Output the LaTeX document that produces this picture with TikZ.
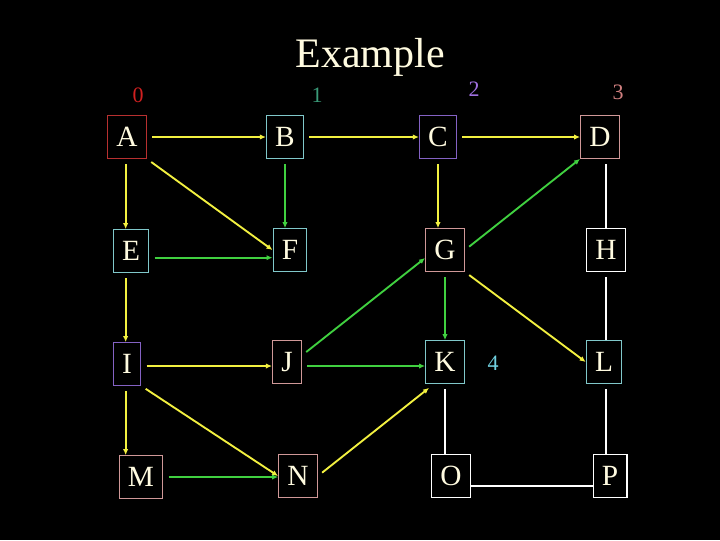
\documentclass[tikz,border=0pt]{standalone}
\usepackage{fontspec}
\setmainfont{Liberation Serif}
\usetikzlibrary{arrows.meta,calc}
\definecolor{ivory}{HTML}{FFFBE0}
\definecolor{boxred}{HTML}{B83030}
\definecolor{boxteal}{HTML}{80C8CA}
\definecolor{boxplum}{HTML}{8462C4}
\definecolor{boxpink}{HTML}{D09898}
\definecolor{edgeyellow}{HTML}{F2F040}
\definecolor{edgegreen}{HTML}{40D040}
\definecolor{lvlred}{HTML}{D02020}
\definecolor{lvlteal}{HTML}{3A9A78}
\definecolor{lvlplum}{HTML}{A070E0}
\definecolor{lvlpink}{HTML}{D08080}
\definecolor{lvlcyan}{HTML}{70D0E0}
\tikzset{
  >={Latex[length=4.5pt,width=4pt]},
  % noder
  vx/.style={rectangle,draw,fill=black,line width=0.8pt,text=ivory,
             inner xsep=6.6pt,inner ysep=0pt,minimum height=32pt,
             font=\fontsize{22}{25}\selectfont},
  vred/.style={vx,draw=boxred},
  vteal/.style={vx,draw=boxteal},
  vplum/.style={vx,draw=boxplum},
  vpink/.style={vx,draw=boxpink},
  vwhite/.style={vx,draw=white},
  lvl/.style={font=\fontsize{16.5}{19}\selectfont,inner sep=0pt},
  % kanter
  ye/.style={->,draw=edgeyellow,line width=1.4pt,shorten <=4pt},
  gre/.style={->,draw=edgegreen,line width=1.4pt,shorten <=4pt},
  wl/.style={draw=white,line width=0.8pt,shorten <=4pt},
}
\begin{document}
\begin{tikzpicture}[x=0.75pt,y=-0.75pt]
\useasboundingbox (0,0) rectangle (720,540);
  \fill[black] (0,0) rectangle (720,540);
  \node[text=ivory,font=\fontsize{31.5}{36}\selectfont] (title) at (370,57) {Example};
  \node[vred]   (A) at (127,137) {A};
  \node[vteal]  (B) at (285,137) {B};
  \node[vplum]  (C) at (438,137) {C};
  \node[vpink]  (D) at (600,137) {D};
  \node[vteal]  (E) at (131,251) {E};
  \node[vteal]  (F) at (290,250) {F};
  \node[vpink]  (G) at (445,250) {G};
  \node[vwhite] (H) at (606,250) {H};
  \node[vplum]  (I) at (127,364) {I};
  \node[vpink]  (J) at (287,362) {J};
  \node[vteal]  (K) at (445,362) {K};
  \node[vteal]  (L) at (604,362) {L};
  \node[vpink]  (M) at (141,477) {M};
  \node[vpink]  (N) at (298,476) {N};
  \node[vwhite] (O) at (451,476) {O};
  \node[vwhite] (P) at (610,476) {P};
  \node[lvl,text=lvlred]  (l0) at (138,95) {0};
  \node[lvl,text=lvlteal] (l1) at (317,95) {1};
  \node[lvl,text=lvlplum] (l2) at (474,89) {2};
  \node[lvl,text=lvlpink] (l3) at (618,92) {3};
  \node[lvl,text=lvlcyan] (l4) at (493,363) {4};
  \draw[ye] (A) -- (B);
  \draw[ye] (B) -- (C);
  \draw[ye] (C) -- (D);
  \draw[ye] ([xshift=-1pt]A.south) -- ([xshift=-1pt]A.south |- E.north);
  \draw[ye] (A.south east) -- (F.west);
  \draw[gre] (B.south) -- (B.south |- F.north);
  \draw[gre] ([yshift=-5pt]E.east) -- ([yshift=-5pt]E.east -| F.west);
  \draw[ye] (C.south) -- (C.south |- G.north);
  \draw[gre] (G.east) -- (D.south west);
  \draw[ye] ([xshift=-1pt]A.south |- E.south) -- ([xshift=-1pt]A.south |- I.north);
  \draw[gre] ([yshift=5pt]J.east) -- ([yshift=-6pt]G.west);
  \draw[gre] (G.south) -- (G.south |- K.north);
  \draw[ye] (G.south east) -- (L.west);
  \draw[ye] ([yshift=-1.5pt]I.east) -- ([yshift=-1.5pt]I.east -| J.west);
  \draw[gre] ([yshift=-3pt]J.east) -- ([yshift=-3pt]J.east -| K.west);
  \draw[ye] ([xshift=-1pt]I.south) -- ([xshift=-1pt]I.south |- M.north);
  \draw[ye] (I.south east) -- (N.west);
  \draw[gre] (M) -- (M -| N.west);
  \draw[ye] (N.east) -- ([shift={(4,4)}]K.south west);
  \draw[wl] (H.north |- D.south) -- (H.north);
  \draw[wl] (H.south) -- (H.south |- L.north);
  \draw[wl] (K.south) -- (K.south |- O.north);
  \draw[wl] (H.south |- L.south) -- (H.south |- P.north);
  \draw[wl,shorten <=0pt] ($(O.east)+(0,10)$) -- ($(O.east)+(0,10)-(O.east)+(P.west)$);
\end{tikzpicture}
\end{document}
